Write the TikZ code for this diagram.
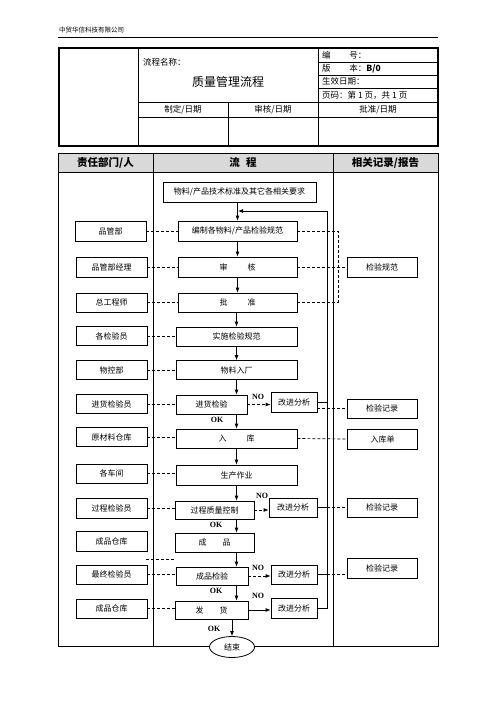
\documentclass[tikz,border=0pt]{standalone}
\usepackage{fontspec}
\setmainfont{Liberation Serif}
\newfontfamily\cjk{Noto Sans CJK SC}
\usetikzlibrary{arrows.meta,shapes.geometric}

\tikzset{
  box/.style={draw, line width=0.8pt, inner sep=0pt, minimum height=19pt, font=\cjk\fontsize{8}{9}\selectfont},
  dept/.style={box, minimum width=71pt},
  rec/.style={box, minimum width=70pt},
  flow/.style={line width=0.8pt, -{Latex[length=5pt,width=4pt]}},
  dashln/.style={line width=0.7pt, dash pattern=on 3pt off 2pt},
  tag/.style={font=\bfseries\fontsize{8}{9}\selectfont, inner sep=0pt},
  txt/.style={font=\cjk\fontsize{8.5}{10}\selectfont, inner sep=0pt},
}

\begin{document}
\begin{tikzpicture}[x=1pt, y=-1pt]
    \useasboundingbox[fill=white] (0,0) rectangle (496,702);

    % Page head
    \node[txt, anchor=west, font=\cjk\fontsize{6.5}{8}\selectfont] (company) at (59,30) {中贸华信科技有限公司};
    \draw[line width=0.8pt] (58,37) -- (438,37);

    % Document table
    \draw[line width=0.8pt] (138,48) -- (138,146) (318,48) -- (318,102)
        (318,62) -- (438,62) (318,75) -- (438,75) (318,88) -- (438,88)
        (138,102) -- (438,102) (138,117) -- (438,117)
        (228,102) -- (228,146) (318,102) -- (318,146);
    \draw[line width=1.8pt] (59,48) rectangle (438,146);
    \node[txt, anchor=west] (namelbl) at (143,62) {流程名称：};
    \node[txt, font=\cjk\fontsize{12}{14}\selectfont] (title) at (228,82) {质量管理流程};
    \node[txt, anchor=west] (code) at (322,55) {编\hspace{2.2em}号：};
    \node[txt, anchor=west] (ver) at (322,68.5) {版\hspace{2.2em}本：\textbf{B/0}};
    \node[txt, anchor=west] (eff) at (322,81.5) {生效日期：};
    \node[txt, anchor=west] (page) at (322,95) {页码：第 1 页，共 1 页};
    \node[txt] (made) at (183,109.5) {制定/日期};
    \node[txt] (chk) at (273,109.5) {审核/日期};
    \node[txt] (appr) at (378,109.5) {批准/日期};

    % Flow table frame
    \fill[gray!30] (58,153) rectangle (438,172);
    \draw[line width=0.8pt] (58,153) rectangle (438,646);
    \draw[line width=0.8pt] (58,172) -- (438,172) (153,153) -- (153,646) (333,153) -- (333,646);
    \node[txt, font=\cjk\bfseries\fontsize{10.5}{12}\selectfont] (h1) at (105.5,162.5) {责任部门/人};
    \node[txt, font=\cjk\bfseries\fontsize{10.5}{12}\selectfont] (h2) at (243,162.5) {流\hspace{0.6em}程};
    \node[txt, font=\cjk\bfseries\fontsize{10.5}{12}\selectfont] (h3) at (385.5,162.5) {相关记录/报告};

    % Flow steps
    \node[box, minimum width=153pt, minimum height=20pt] (std) at (239.5,192) {物料/产品技术标准及其它各相关要求};
    \node[box, minimum width=119pt, minimum height=20pt] (bianzhi) at (237.5,231) {编制各物料/产品检验规范};
    \node[box, minimum width=119pt, minimum height=20pt] (shenhe) at (237.5,267) {审\hspace{2.5em}核};
    \node[box, minimum width=119pt] (pizhun) at (237.5,302.5) {批\hspace{2.5em}准};
    \node[box, minimum width=121pt] (shishi) at (236.5,336.5) {实施检验规范};
    \node[box, minimum width=121pt] (ruchang) at (236.5,370) {物料入厂};
    \node[box, minimum width=71pt] (jinhuo) at (211.5,404.5) {进货检验};
    \node[box, minimum width=121pt] (ruku) at (236.5,438.5) {入\hspace{2.5em}库};
    \node[box, minimum width=121pt, minimum height=20pt] (shengchan) at (236.5,475) {生产作业};
    \node[box, minimum width=79pt, minimum height=18pt] (guocheng) at (214.5,510) {过程质量控制};
    \node[box, minimum width=79pt] (chengpin) at (214.5,542.5) {成\hspace{2em}品};
    \node[box, minimum width=72pt, minimum height=18pt] (chengjian) at (212,576) {成品检验};
    \node[box, minimum width=73pt, minimum height=18pt] (fahuo) at (211.5,610) {发\hspace{2em}货};
    \node[box, ellipse, fill=white, minimum width=45pt, minimum height=21pt] (jieshu) at (232,647) {结束};

    % Improvement boxes
    \node[box, minimum width=46pt, minimum height=20pt] (gaijin1) at (294,402) {改进分析};
    \node[box, minimum width=48pt] (gaijin2) at (293,507.5) {改进分析};
    \node[box, minimum width=46pt] (gaijin3) at (294,574.5) {改进分析};
    \node[box, minimum width=46pt, minimum height=20pt] (gaijin4) at (294,608) {改进分析};

    % Departments
    \node[dept, minimum height=20pt] (pgb) at (110.5,231) {品管部};
    \node[dept, minimum height=20pt] (pgjl) at (111.5,267) {品管部经理};
    \node[dept] (zgcs) at (111.5,302.5) {总工程师};
    \node[dept] (gjyy) at (111.5,336) {各检验员};
    \node[dept] (wkb) at (111.5,370) {物控部};
    \node[dept] (jhjyy) at (111.5,404) {进货检验员};
    \node[dept] (yclck) at (111.5,437) {原材料仓库};
    \node[dept] (gcj) at (111.5,473.5) {各车间};
    \node[dept, minimum height=20pt] (gcjyy) at (111.5,508) {过程检验员};
    \node[dept, minimum height=20pt] (cpck1) at (111.5,541) {成品仓库};
    \node[dept] (zzjyy) at (111.5,574.5) {最终检验员};
    \node[dept] (cpck2) at (111.5,608.5) {成品仓库};

    % Records
    \node[rec, minimum height=20pt] (gf) at (382,267) {检验规范};
    \node[rec] (jl1) at (382,408.5) {检验记录};
    \node[rec, minimum height=20pt] (rkd) at (382.5,439) {入库单};
    \node[rec] (jl2) at (382,507.5) {检验记录};
    \node[rec, minimum height=20pt] (jl3) at (382,568) {检验记录};

    % Main flow
    \coordinate (spine) at (236.5,0);
    \coordinate (railtop) at (327,211);
    \coordinate (back) at (238,211);
    \draw[flow] (std.south -| bianzhi) -- (bianzhi.north);
    \draw[flow] (bianzhi) -- (shenhe);
    \draw[flow] (shenhe) -- (pizhun);
    \draw[flow] (pizhun.south -| spine) -- (shishi.north -| spine);
    \draw[flow] (shishi) -- (ruchang);
    \draw[flow] (ruchang.south -| spine) -- (jinhuo.north -| spine);
    \draw[flow] (jinhuo.south -| spine) -- (ruku.north -| spine);
    \draw[flow] (ruku) -- (shengchan);
    \draw[flow] (shengchan.south -| spine) -- (guocheng.north -| spine);
    \draw[flow] (guocheng.south -| spine) -- (chengpin.north -| spine);
    \draw[flow] (chengpin.south -| spine) -- (chengjian.north -| spine);
    \draw[flow] (chengjian.south -| spine) -- (fahuo.north -| spine);
    \draw[flow] (fahuo.south -| jieshu) -- (jieshu.north);

    % NO branches
    \draw[flow, densely dashed] (jinhuo.east) -- (jinhuo.east -| gaijin1.west);
    \draw[flow, densely dashed] (guocheng.east) -- (guocheng.east -| gaijin2.west);
    \draw[flow, densely dashed] (chengjian.east) -- (chengjian.east -| gaijin3.west);
    \draw[flow] (fahuo.east) -- (fahuo.east -| gaijin4.west);
    \draw[line width=0.8pt] (gaijin1.east) -- (gaijin1.east -| railtop);
    \draw[line width=0.8pt] (gaijin2.east) -- (gaijin2.east -| railtop);
    \draw[line width=0.8pt] (gaijin3.east) -- (gaijin3.east -| railtop);
    \draw[flow] (gaijin4.east) -| (railtop) -- (back);

    % Labels
    \node[tag] (no1) at (258,397) {NO};
    \node[tag] (no2) at (262,496) {NO};
    \node[tag] (no3) at (258,568) {NO};
    \node[tag] (no4) at (258,596) {NO};
    \node[tag] (ok1) at (217,420) {OK};
    \node[tag] (ok2) at (216,525) {OK};
    \node[tag] (ok3) at (216,591) {OK};
    \node[tag] (ok4) at (214,629) {OK};

    % Responsibility links
    \foreach \d/\s in {pgb/bianzhi, pgjl/shenhe, zgcs/pizhun, gjyy/shishi, wkb/ruchang,
                       jhjyy/jinhuo, yclck/ruku, gcj/shengchan, gcjyy/guocheng,
                       zzjyy/chengjian, cpck2/fahuo}
        \draw[dashln] (\d.east) -- (\d.east -| \s.west);
    \draw[dashln] (146,559) -- (174,559);

    % Record links
    \coordinate (dashrail) at (338,0);
    \draw[dashln] (bianzhi.east) -| (pizhun.east -| dashrail) -- (pizhun.east);
    \draw[dashln] (shenhe.east) -- (gf.west);
    \draw[dashln] (jl1.west -| gaijin1.east) -- (jl1.west);
    \draw[dashln] (ruku.east) -- (rkd.west);
    \draw[dashln] (gaijin2.east) -- (jl2.west);
    \draw[dashln] (gaijin3.east) -- (gaijin3.east -| jl3.west);
\end{tikzpicture}
\end{document}
